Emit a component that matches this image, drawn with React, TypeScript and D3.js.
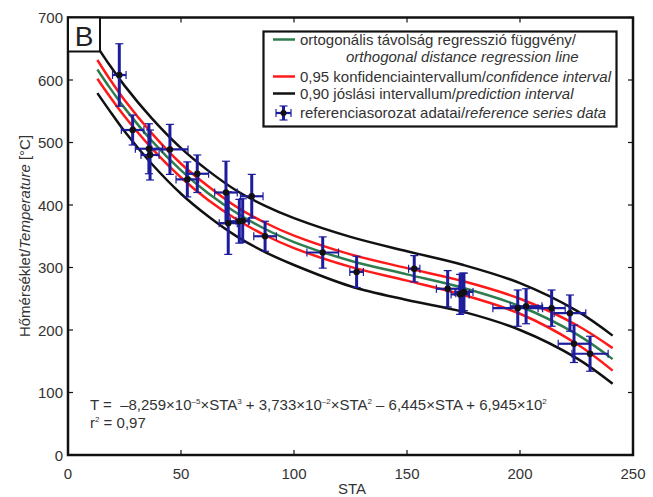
import React from "react";
import * as d3 from "d3";

const W = 653, H = 497;
const M = { left: 68, right: 633, top: 17.5, bottom: 455 };

// curve grid (STA) and read values
const curveSTA = [13, 18, 25, 37, 50, 62, 75, 87, 100, 125, 150, 175, 200, 225, 241];
const fitT = [616.8, 590.1, 555.4, 503.0, 455.3, 418.7, 386.3, 362.0, 340.7, 310.9, 289.0, 267.2, 238.0, 193.4, 153.4];
const ciUpper = [632, 604, 568, 515, 466, 430, 396, 372, 351, 321, 299, 278, 250, 208, 171];
const ciLower = [602, 576, 542, 491, 444, 408, 376, 352, 331, 301, 279, 256, 226, 178, 135];
const piUpper = [653, 626, 591, 539, 491, 455, 422, 399, 379, 349, 326, 304, 275, 231, 191];
const piLower = [579, 553, 518, 466, 418, 382, 349, 325, 304, 270, 248, 229, 200, 155, 114];

// reference series data
const dataSTA = [22.7, 28.6, 35.8, 36.3, 45.1, 52.8, 57.2, 69.9, 70.9, 75.8, 77.3, 81.3, 87.2, 112.7, 127.7, 153.2, 168, 173.5, 174.6, 175.2, 199, 202.7, 214, 222.1, 223.9, 231];
const dataT = [608, 520, 490, 480, 489, 441, 450, 420, 371, 374, 375, 414, 350, 324, 293, 298, 266, 257, 259, 261, 235, 238, 235, 227, 178, 162];
const dataXErr = [3, 5, 6, 4, 8, 5, 5, 5, 4, 4, 3, 5, 5, 7, 3, 2.5, 5, 4, 3, 4, 11, 7, 6, 7, 7, 8];
const dataYErr = [50, 24, 40, 40, 40, 28, 30, 50, 50, 35, 35, 35, 24, 25, 25, 21, 29, 32, 32, 30, 29, 28, 29, 29, 30, 28];

const xTicks = [0, 50, 100, 150, 200, 250];
const yTicks = [0, 100, 200, 300, 400, 500, 600, 700];

const legendItems = [
  { color: "#2f7d4e", a: "ortogonális távolság regresszió függvény/", b: "", b2: "orthogonal distance regression line" },
  { color: "#ff1a1a", a: "0,95 konfidenciaintervallum/", b: "confidence interval" },
  { color: "#111", a: "0,90 jóslási intervallum/", b: "prediction interval" },
  { color: "data", a: "referenciasorozat adatai/", b: "reference series data" },
];

const FONT = "Liberation Sans, Arial, sans-serif";
const TXT = "#333";
const BLUE = "#1c1c9c";
const FS = 15;

export default function App() {
  const x = d3.scaleLinear().domain([0, 250]).range([M.left, M.right]);
  const y = d3.scaleLinear().domain([0, 700]).range([M.bottom, M.top]);
  const mk = (vals: number[]) =>
    d3.line<number>().x((_, i) => x(curveSTA[i])).y((v) => y(v)).curve(d3.curveCatmullRom)(vals) || "";

  const cap = 4;
  const legendRows = [39.5, 76.5, 93.5, 113];

  return (
    <svg width={W} height={H} style={{ position: "absolute", left: 0, top: 0, background: "#fff" }} fontFamily={FONT}>
      <rect width={W} height={H} fill="#fff" />
      {/* curves */}
      <path d={mk(piUpper)} fill="none" stroke="#111" strokeWidth={2.5} />
      <path d={mk(piLower)} fill="none" stroke="#111" strokeWidth={2.5} />
      <path d={mk(ciUpper)} fill="none" stroke="#ff1a1a" strokeWidth={2.5} />
      <path d={mk(ciLower)} fill="none" stroke="#ff1a1a" strokeWidth={2.5} />
      <path d={mk(fitT)} fill="none" stroke="#2f7d4e" strokeWidth={2.5} />

      {/* error bars */}
      {dataSTA.map((s, i) => {
        const cx = x(s), cy = y(dataT[i]);
        const x0 = x(s - dataXErr[i]), x1 = x(s + dataXErr[i]);
        const y0 = y(dataT[i] + dataYErr[i]), y1 = y(dataT[i] - dataYErr[i]);
        return (
          <g key={i}>
            <line x1={x0} x2={x1} y1={cy} y2={cy} stroke={BLUE} strokeWidth={2.2} />
            <line x1={x0} x2={x0} y1={cy - cap} y2={cy + cap} stroke={BLUE} strokeWidth={1.2} />
            <line x1={x1} x2={x1} y1={cy - cap} y2={cy + cap} stroke={BLUE} strokeWidth={1.2} />
            <line x1={cx} x2={cx} y1={y0} y2={y1} stroke={BLUE} strokeWidth={3} />
            <line x1={cx - cap} x2={cx + cap} y1={y0} y2={y0} stroke={BLUE} strokeWidth={1.2} />
            <line x1={cx - cap} x2={cx + cap} y1={y1} y2={y1} stroke={BLUE} strokeWidth={1.2} />
          </g>
        );
      })}
      {dataSTA.map((s, i) => (
        <circle key={"p" + i} cx={x(s)} cy={y(dataT[i])} r={3.2} fill="#111" />
      ))}

      {/* frame */}
      <rect x={M.left} y={M.top} width={M.right - M.left} height={M.bottom - M.top} fill="none" stroke="#111" strokeWidth={2.5} />
      {xTicks.map((t) => (
        <g key={"xt" + t}>
          <line x1={x(t)} x2={x(t)} y1={M.bottom} y2={M.bottom - 5} stroke="#111" strokeWidth={1.2} />
          <line x1={x(t)} x2={x(t)} y1={M.top} y2={M.top + 5} stroke="#111" strokeWidth={1.2} />
          <text x={x(t)} y={M.bottom + 24} textAnchor="middle" fontSize={FS} fill={TXT}>{t}</text>
        </g>
      ))}
      {yTicks.map((t) => (
        <g key={"yt" + t}>
          <line x1={M.left} x2={M.left + 5} y1={y(t)} y2={y(t)} stroke="#111" strokeWidth={1.2} />
          <line x1={M.right} x2={M.right - 5} y1={y(t)} y2={y(t)} stroke="#111" strokeWidth={1.2} />
          <text x={M.left - 5} y={y(t) + 5.5} textAnchor="end" fontSize={FS} fill={TXT}>{t}</text>
        </g>
      ))}

      {/* axis titles */}
      <text x={352} y={494} textAnchor="middle" fontSize={FS} fill={TXT}>STA</text>
      <text transform={`translate(30,236) rotate(-90)`} textAnchor="middle" fontSize={FS} fill={TXT}>
        Hőmérséklet/<tspan fontStyle="italic">Temperature</tspan> [°C]
      </text>

      {/* B label */}
      <rect x={M.left} y={M.top} width={32} height={34} fill="#fff" stroke="#111" strokeWidth={2} />
      <text x={M.left + 16} y={M.top + 28} textAnchor="middle" fontSize={28} fill="#222">B</text>

      {/* legend */}
      <rect x={263.5} y={31.5} width={353} height={95} fill="#fff" stroke="#111" strokeWidth={2.2} />
      {legendItems.map((it, i) => {
        const ly = legendRows[i];
        return (
          <g key={"lg" + i}>
            {it.color === "data" ? (
              <g>
                <line x1={276} x2={291} y1={ly} y2={ly} stroke={BLUE} strokeWidth={2.2} />
                <line x1={276} x2={276} y1={ly - 4} y2={ly + 4} stroke={BLUE} strokeWidth={1.2} />
                <line x1={291} x2={291} y1={ly - 4} y2={ly + 4} stroke={BLUE} strokeWidth={1.2} />
                <line x1={283.5} x2={283.5} y1={ly - 7} y2={ly + 7} stroke={BLUE} strokeWidth={3} />
                <line x1={279.5} x2={287.5} y1={ly - 7} y2={ly - 7} stroke={BLUE} strokeWidth={1.2} />
                <line x1={279.5} x2={287.5} y1={ly + 7} y2={ly + 7} stroke={BLUE} strokeWidth={1.2} />
                <circle cx={283.5} cy={ly} r={3} fill="#111" />
              </g>
            ) : (
              <line x1={273} x2={295} y1={ly} y2={ly} stroke={it.color} strokeWidth={2.5} />
            )}
            <text x={300} y={ly + 5} fontSize={FS} fill={TXT}>
              {it.a}
              {it.b && <tspan fontStyle="italic">{it.b}</tspan>}
            </text>
            {it.b2 && (
              <text x={346} y={ly + 22} fontSize={FS} fill={TXT} fontStyle="italic">{it.b2}</text>
            )}
          </g>
        );
      })}

      {/* equation */}
      <text x={90} y={409.5} fontSize={FS} fill={TXT} xmlSpace="preserve">
        T =  –8,259×10<tspan dy={-6} fontSize={8}>–5</tspan>
        <tspan dy={6}>×STA</tspan><tspan dy={-6} fontSize={8}>3</tspan>
        <tspan dy={6}> + 3,733×10</tspan><tspan dy={-6} fontSize={8}>–2</tspan>
        <tspan dy={6}>×STA</tspan><tspan dy={-6} fontSize={8}>2</tspan>
        <tspan dy={6}> – 6,445×STA + 6,945×10</tspan><tspan dy={-6} fontSize={8}>2</tspan>
      </text>
      <text x={90} y={428} fontSize={FS} fill={TXT}>
        r<tspan dy={-6} fontSize={8}>2</tspan><tspan dy={6}> = 0,97</tspan>
      </text>
    </svg>
  );
}
